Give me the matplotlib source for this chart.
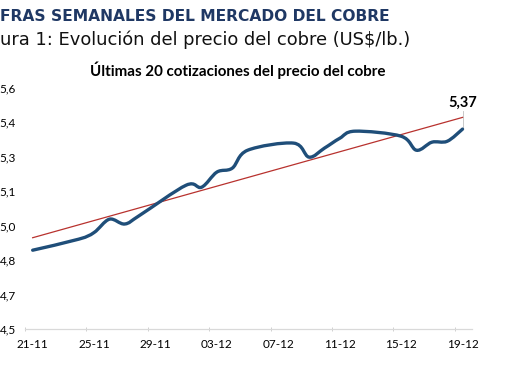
import matplotlib
matplotlib.use("Agg")
import matplotlib.pyplot as plt
import matplotlib.dates as mdates
from matplotlib.path import Path
from matplotlib.patches import PathPatch
import numpy as np
from datetime import datetime

# data
dates = ["2025-11-21", "2025-11-24", "2025-11-25", "2025-11-26", "2025-11-27",
         "2025-11-28", "2025-12-01", "2025-12-02", "2025-12-03", "2025-12-04",
         "2025-12-05", "2025-12-08", "2025-12-09", "2025-12-10", "2025-12-11",
         "2025-12-12", "2025-12-15", "2025-12-16", "2025-12-17", "2025-12-18",
         "2025-12-19"]
prices = [4.843, 4.891, 4.920, 4.978, 4.957,
          4.996, 5.126, 5.117, 5.183, 5.200,
          5.278, 5.309, 5.248, 5.287, 5.330,
          5.361, 5.339, 5.278, 5.313, 5.317,
          5.370]
ytick_vals = [4.5, 4.65, 4.8, 4.95, 5.1, 5.25, 5.4, 5.55]
ytick_labels = ["4,5", "4,7", "4,8", "5,0", "5,1", "5,3", "5,4", "5,6"]
xtick_labels = ["21-11", "25-11", "29-11", "03-12", "07-12", "11-12", "15-12", "19-12"]

navy = "#1F4E79"
trend_red = "#B8322E"
lab_font = ["Lato", "DejaVu Sans"]

fig = plt.figure(figsize=(5.1, 3.65), dpi=100)
ax = fig.add_axes([0.049, 0.0986, 0.876, 0.661])

x = mdates.date2num([datetime.strptime(d, "%Y-%m-%d") for d in dates])
y = np.array(prices)

# smoothed line like Excel: cubic bezier segments through the points
pts = np.column_stack([x, y])
verts = [pts[0]]
codes = [Path.MOVETO]
n = len(pts)
for i in range(n - 1):
    p0 = pts[i - 1] if i > 0 else pts[i]
    p1, p2 = pts[i], pts[i + 1]
    p3 = pts[i + 2] if i + 2 < n else pts[i + 1]
    c1 = p1 + (p2 - p0) / 6
    c2 = p2 - (p3 - p1) / 6
    verts += [c1, c2, p2]
    codes += [Path.CURVE4] * 3
ax.add_patch(PathPatch(Path(verts, codes), fill=False, edgecolor=navy,
                       linewidth=2.4, capstyle="round", joinstyle="round", zorder=3))

# linear trend line
coef = np.polyfit(x - x[0], y, 1)
tx = np.array([x[0], x[-1]])
ax.plot(tx, np.polyval(coef, tx - x[0]), color=trend_red, linewidth=0.9, zorder=2)

# axes
start = x[0]
ax.set_xlim(start - 0.5, x[-1] + 0.6)
ax.set_ylim(4.5, 5.55)
major = [start + 4 * k for k in range(len(xtick_labels))]
ax.set_xticks(major)
ax.set_xticklabels(xtick_labels, family=lab_font, fontsize=8.5)
ax.set_xticks([m - 0.5 for m in major], minor=True)
ax.tick_params(axis="x", which="major", length=0, pad=7)
ax.tick_params(axis="x", which="minor", length=3.5, direction="inout", color="#C8C8C8")
ax.set_yticks(ytick_vals)
ax.set_yticklabels(ytick_labels, family=lab_font, fontsize=8.5)
ax.tick_params(axis="y", length=0, pad=6.5)
for s in ["top", "right", "left"]:
    ax.spines[s].set_visible(False)
ax.spines["bottom"].set_color("#D9D9D9")
ax.spines["bottom"].set_linewidth(0.9)

# last value label with a thin leader
ax.plot([x[-1], x[-1]], [y[-1] + 0.01, y[-1] + 0.08], color="#BFBFBF", linewidth=0.6, zorder=1)
ax.text(x[-1], y[-1] + 0.085, "5,37", ha="center", va="bottom", fontsize=10.5,
        fontweight="bold", family=lab_font)

# headings
fig.text(0.0, 0.955, "FRAS SEMANALES DEL MERCADO DEL COBRE", ha="left", va="center",
         fontsize=11.2, fontweight="bold", color="#1F3864", family=["DejaVu Sans"])
fig.text(0.0, 0.89, "ura 1: Evolución del precio del cobre (US$/lb.)", ha="left",
         va="center", fontsize=12.9, color="#111111", family=["DejaVu Sans"])
fig.text(0.467, 0.808, "Últimas 20 cotizaciones del precio del cobre", ha="center",
         va="center", fontsize=10.9, fontweight="bold", family=lab_font)

fig.savefig("out.png", dpi=100, facecolor="white")
